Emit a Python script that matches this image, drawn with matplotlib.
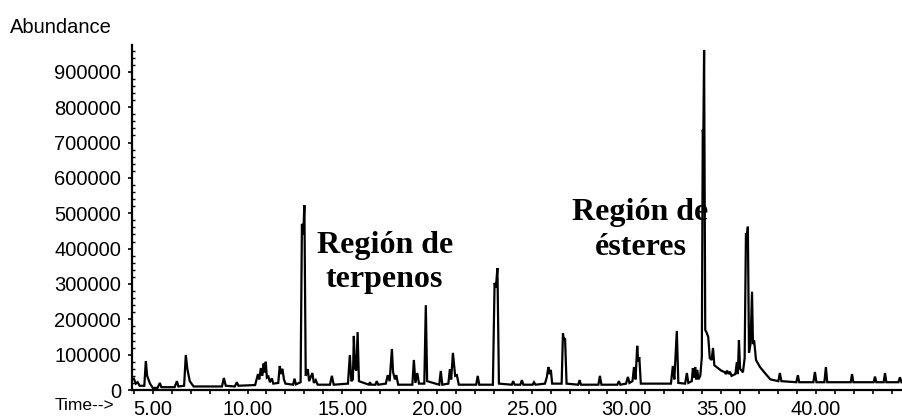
import matplotlib
matplotlib.use('Agg')
import matplotlib.pyplot as plt
from matplotlib.ticker import MultipleLocator

plt.rcParams['font.family'] = ['Liberation Sans', 'DejaVu Sans']

# Trace vertices: retention time (min), abundance
time_min = [
    3.90, 4.00, 4.10, 4.20, 4.30, 4.55, 4.63, 4.70, 4.85, 5.00,
    5.25, 5.37, 5.45, 6.15, 6.27, 6.35, 6.65, 6.74, 6.82, 6.95,
    7.15, 8.65, 8.75, 8.85, 9.33, 9.43, 9.52, 10.40, 10.55, 10.62,
    10.70, 10.78, 10.85, 10.90, 10.96, 11.02, 11.10, 11.18, 11.28, 11.36,
    11.62, 11.70, 11.76, 11.84, 11.92, 12.00, 12.40, 12.48, 12.55, 12.80,
    12.87, 12.94, 13.00, 13.07, 13.18, 13.25, 13.42, 13.50, 13.60, 13.70,
    14.35, 14.45, 14.55, 15.30, 15.40, 15.48, 15.56, 15.61, 15.67, 15.74,
    15.81, 15.88, 16.40, 16.46, 16.52, 16.75, 16.82, 16.90, 17.30, 17.40,
    17.50, 17.62, 17.68, 17.78, 17.85, 17.95, 18.70, 18.78, 18.86, 18.96,
    19.05, 19.33, 19.41, 19.48, 20.12, 20.20, 20.28, 20.60, 20.68, 20.75,
    20.84, 20.90, 20.96, 21.05, 21.15, 22.07, 22.15, 22.23, 22.95, 23.04,
    23.11, 23.19, 23.27, 23.95, 24.02, 24.10, 24.40, 24.48, 24.56, 25.05,
    25.12, 25.20, 25.70, 25.80, 25.88, 25.94, 26.01, 26.08, 26.58, 26.65,
    26.70, 26.76, 26.84, 27.45, 27.53, 27.60, 28.52, 28.60, 28.68, 29.52,
    29.60, 29.68, 29.98, 30.08, 30.16, 30.32, 30.40, 30.48, 30.57, 30.62,
    30.68, 30.76, 32.35, 32.45, 32.53, 32.66, 32.74, 33.10, 33.19, 33.27,
    33.45, 33.51, 33.56, 33.63, 33.68, 33.74, 33.80, 33.90, 33.98, 34.03,
    34.06, 34.10, 34.16, 34.22, 34.32, 34.40, 34.50, 34.57, 34.64, 34.83,
    35.00, 35.20, 35.25, 35.31, 35.40, 35.46, 35.55, 35.75, 35.83, 35.88,
    35.94, 36.00, 36.15, 36.24, 36.31, 36.36, 36.41, 36.47, 36.55, 36.63,
    36.68, 36.74, 36.84, 37.05, 37.31, 37.60, 38.02, 38.10, 38.18, 38.97,
    39.05, 39.12, 39.87, 39.95, 40.03, 40.45, 40.53, 40.60, 41.84, 41.91,
    41.98, 43.05, 43.12, 43.19, 43.58, 43.65, 43.72, 44.36, 44.44, 44.52,
    44.70,
]
abundance = [
    30000, 32000, 18000, 22000, 12000, 12000, 82000, 40000, 18000, 6000,
    6000, 20000, 8000, 8000, 25000, 10000, 12000, 99000, 60000, 25000,
    10000, 10000, 34000, 12000, 10000, 22000, 12000, 14000, 45000, 30000,
    62000, 40000, 75000, 50000, 80000, 35000, 38000, 22000, 33000, 18000,
    20000, 68000, 45000, 60000, 30000, 18000, 15000, 32000, 16000, 22000,
    470000, 440000, 523000, 40000, 59000, 25000, 48000, 20000, 28000, 15000,
    15000, 40000, 15000, 18000, 99000, 25000, 30000, 153000, 62000, 55000,
    164000, 25000, 15000, 22000, 15000, 15000, 25000, 15000, 18000, 42000,
    25000, 116000, 51000, 30000, 42000, 15000, 15000, 85000, 20000, 48000,
    18000, 18000, 240000, 25000, 15000, 54000, 15000, 18000, 59000, 30000,
    105000, 71000, 40000, 42000, 15000, 15000, 40000, 15000, 15000, 303000,
    290000, 345000, 18000, 15000, 25000, 15000, 15000, 28000, 15000, 15000,
    22000, 15000, 18000, 37000, 65000, 45000, 57000, 18000, 18000, 161000,
    140000, 147000, 18000, 15000, 28000, 15000, 15000, 40000, 15000, 15000,
    25000, 15000, 18000, 37000, 20000, 25000, 65000, 30000, 125000, 80000,
    93000, 18000, 18000, 68000, 30000, 167000, 20000, 18000, 48000, 20000,
    25000, 62000, 35000, 65000, 30000, 57000, 30000, 40000, 93000, 736000,
    720000, 962000, 170000, 164000, 150000, 90000, 85000, 119000, 70000, 62000,
    55000, 50000, 45000, 55000, 45000, 52000, 40000, 45000, 79000, 45000,
    141000, 60000, 50000, 90000, 444000, 430000, 462000, 105000, 130000, 278000,
    130000, 141000, 85000, 65000, 48000, 30000, 25000, 48000, 25000, 22000,
    42000, 22000, 22000, 51000, 22000, 22000, 65000, 22000, 22000, 45000,
    22000, 22000, 38000, 22000, 22000, 48000, 22000, 22000, 36000, 22000,
    25000,
]

y_ticks = [0, 100000, 200000, 300000, 400000, 500000, 600000, 700000, 800000, 900000]
y_tick_labels = [str(v) for v in y_ticks]
x_ticks = [5, 10, 15, 20, 25, 30, 35, 40]
x_tick_labels = ['5.00', '10.00', '15.00', '20.00', '25.00', '30.00', '35.00', '40.00']

W, H = 903, 418
fig = plt.figure(figsize=(W / 100, H / 100), dpi=100)
ax = fig.add_axes([132 / W, 28 / H, 771 / W, 345 / H])

ax.plot(time_min, abundance, color='black', linewidth=1.6, solid_joinstyle='miter')

ax.set_xlim(3.9, 44.6)
ax.set_ylim(0, 976000)

ax.set_yticks(y_ticks)
ax.set_yticklabels(y_tick_labels)
ax.set_xticks(x_ticks)
ax.set_xticklabels(x_tick_labels)
ax.xaxis.set_minor_locator(MultipleLocator(1))
ax.yaxis.set_minor_locator(MultipleLocator(20000))

for side in ['top', 'right']:
    ax.spines[side].set_visible(False)
for side in ['left', 'bottom']:
    ax.spines[side].set_linewidth(1.6)

ax.tick_params(axis='y', which='major', direction='out', length=3, width=1.2,
               pad=5, labelsize=14.5)
ax.tick_params(axis='y', which='minor', direction='in', length=2.5, width=1)
ax.tick_params(axis='x', which='both', direction='out', length=3, width=1.2)
ax.tick_params(axis='x', which='major', pad=4, labelsize=14.5)

# Axis captions in the ChemStation style
fig.text(10 / W, 1 - 33 / H, 'Abundance', fontsize=14.5, va='baseline', ha='left')
fig.text(114 / W, 1 - 410 / H, 'Time-->', fontsize=12.5, va='baseline', ha='right')

# Region annotations
serif = dict(family=['Liberation Serif', 'DejaVu Serif'], fontweight='bold',
             fontsize=23, ha='center', va='baseline')
fig.text(385 / W, 1 - 253 / H, 'Región de', **serif)
fig.text(384 / W, 1 - 287 / H, 'terpenos', **serif)
fig.text(640 / W, 1 - 220 / H, 'Región de', **serif)
fig.text(641 / W, 1 - 255 / H, 'ésteres', **serif)

fig.savefig('out.png', dpi=100)
